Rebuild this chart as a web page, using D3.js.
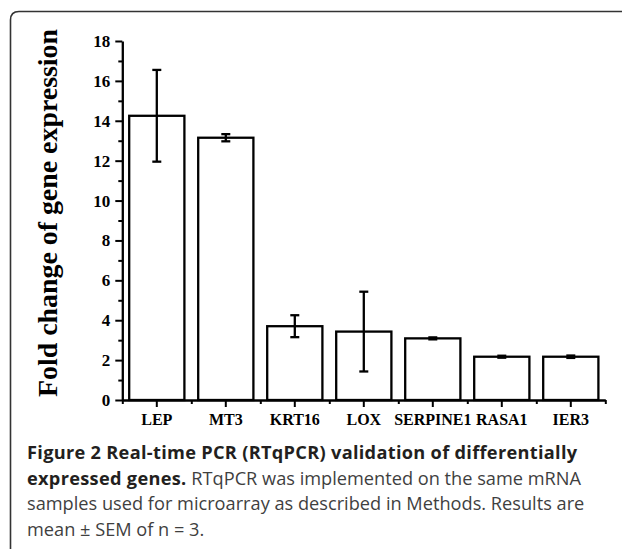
<!DOCTYPE html>
<html>
<head>
<meta charset="utf-8">
<script src="https://cdn.jsdelivr.net/npm/d3@7/dist/d3.min.js"></script>
<style>
  html, body { margin: 0; padding: 0; background: #fff; }
  svg { display: block; }
</style>
</head>
<body>
<svg id="chart" width="622" height="549"></svg>
<script>
// ---- Data ----
const categories = ["LEP", "MT3", "KRT16", "LOX", "SERPINE1", "RASA1", "IER3"];
const values = [14.25, 13.15, 3.70, 3.43, 3.09, 2.17, 2.17];
const errors = [2.30, 0.18, 0.55, 2.00, 0.05, 0.05, 0.06];
const yTicks = [0, 2, 4, 6, 8, 10, 12, 14, 16, 18];
const yMinorTicks = [1, 3, 5, 7, 9, 11, 13, 15, 17];
const yTitle = "Fold change of gene expression";
const captionLines = [
  [{t: "Figure 2 Real-time PCR (RTqPCR) validation of differentially", b: true}],
  [{t: "expressed genes.", b: true}, {t: " RTqPCR was implemented on the same mRNA", b: false}],
  [{t: "samples used for microarray as described in Methods. Results are", b: false}],
  [{t: "mean \u00b1 SEM of n = 3.", b: false}]
];

const svg = d3.select("#chart");
svg.append("rect").attr("width", 622).attr("height", 549).attr("fill", "#fff");

// frame (rounded box, cut by the image edges)
svg.append("path")
  .attr("d", "M10.5,549 V20 Q10.5,11.5 19,11.5 H622")
  .attr("fill", "none").attr("stroke", "#333").attr("stroke-width", 1.6);

const x0 = 122.3, x1 = 605.3, yBase = 400, yTop = 41;
const y = d3.scaleLinear().domain([0, 18]).range([yBase, yTop]);
const x = d3.scaleBand().domain(categories).range([x0, x1]).paddingInner(0.2).paddingOuter(0.1);
const xEdges = d3.scalePoint().domain(d3.range(categories.length + 1)).range([x0, x1]);

const serif = "'Liberation Serif', 'Times New Roman', serif";
const sw = 2.3;

// bars
const g = svg.append("g");
g.selectAll("rect.bar").data(categories).join("rect")
  .attr("class", "bar")
  .attr("x", d => x(d))
  .attr("y", (d, i) => y(values[i]))
  .attr("width", x.bandwidth())
  .attr("height", (d, i) => y(0) - y(values[i]))
  .attr("fill", "#fff").attr("stroke", "#000").attr("stroke-width", sw);

// error bars
const capW = 4.5;
const eb = g.selectAll("g.err").data(categories).join("g").attr("class", "err")
  .attr("stroke", "#000").attr("stroke-width", sw);
eb.append("line")
  .attr("x1", d => x(d) + x.bandwidth() / 2).attr("x2", d => x(d) + x.bandwidth() / 2)
  .attr("y1", (d, i) => y(values[i] + errors[i])).attr("y2", (d, i) => y(values[i] - errors[i]));
eb.append("line")
  .attr("x1", d => x(d) + x.bandwidth() / 2 - capW).attr("x2", d => x(d) + x.bandwidth() / 2 + capW)
  .attr("y1", (d, i) => y(values[i] + errors[i])).attr("y2", (d, i) => y(values[i] + errors[i]));
eb.append("line")
  .attr("x1", d => x(d) + x.bandwidth() / 2 - capW).attr("x2", d => x(d) + x.bandwidth() / 2 + capW)
  .attr("y1", (d, i) => y(values[i] - errors[i])).attr("y2", (d, i) => y(values[i] - errors[i]));

// y axis
const yAxisG = svg.append("g").attr("transform", `translate(${x0},0)`)
  .call(d3.axisLeft(y).tickValues(yTicks).tickSize(7).tickSizeOuter(0).tickPadding(5).tickFormat(d3.format("d")));
svg.append("g").attr("transform", `translate(${x0},0)`)
  .call(d3.axisLeft(y).tickValues(yMinorTicks).tickSize(4).tickSizeOuter(0).tickFormat(""))
  .call(s => s.select(".domain").remove());

// x axis
const xAxisG = svg.append("g").attr("transform", `translate(0,${yBase})`)
  .call(d3.axisBottom(x).tickSize(7).tickSizeOuter(0).tickPadding(6));
svg.append("g").attr("transform", `translate(0,${yBase})`)
  .call(d3.axisBottom(xEdges).tickSize(4).tickSizeOuter(0).tickFormat(""))
  .call(s => s.select(".domain").remove());

svg.selectAll(".domain").attr("stroke", "#000").attr("stroke-width", sw);
svg.selectAll(".tick line").attr("stroke", "#000").attr("stroke-width", 2);
svg.selectAll(".tick text")
  .attr("font-family", serif).attr("font-weight", "bold").attr("font-size", 16).attr("fill", "#000");
yAxisG.selectAll(".tick text").attr("font-size", 17);
xAxisG.selectAll(".tick text").attr("y", 25).attr("dy", 0);

// y title
svg.append("text")
  .attr("transform", "translate(57,213) rotate(-90)")
  .attr("text-anchor", "middle")
  .attr("font-family", serif).attr("font-weight", "bold").attr("font-size", 27)
  .attr("textLength", 368).attr("lengthAdjust", "spacingAndGlyphs")
  .text(yTitle);

// caption
const cap = svg.append("g").attr("font-family", "'Open Sans', sans-serif").attr("font-size", 18.2);
captionLines.forEach((parts, i) => {
  const t = cap.append("text").attr("x", 27).attr("y", 459 + i * 25.6);
  parts.forEach(p => {
    t.append("tspan").text(p.t)
      .attr("font-weight", p.b ? "bold" : "normal")
      .attr("letter-spacing", p.b ? 0.3 : 0)
      .attr("fill", p.b ? "#231f20" : "#3f3f3f")
      .attr("xml:space", "preserve");
  });
});
</script>
</body>
</html>
